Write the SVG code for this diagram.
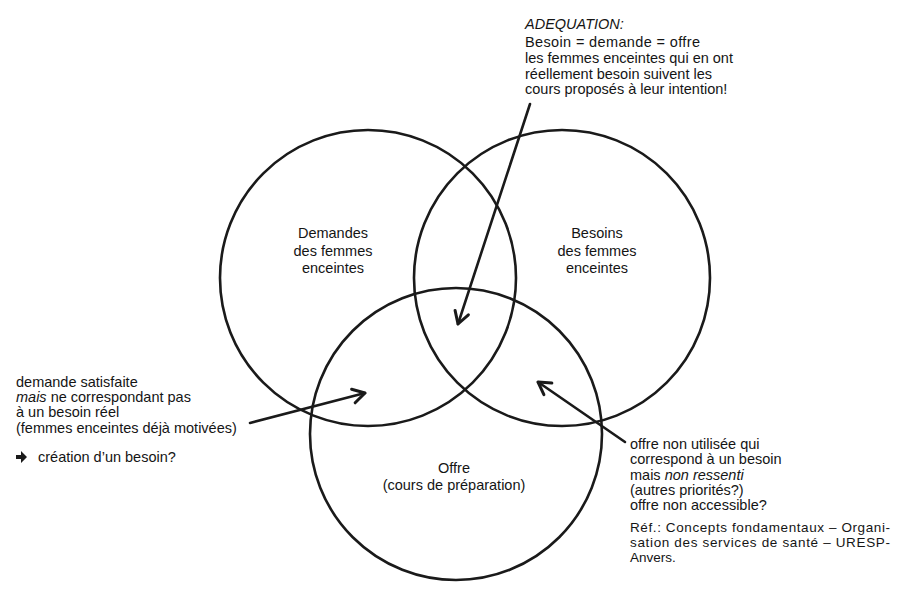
<svg xmlns="http://www.w3.org/2000/svg" width="900" height="592" viewBox="0 0 900 592">
  <style>
    .c { fill: none; stroke: #1a1a1a; stroke-width: 2.6; }
    .t { font-family: "Liberation Sans", Arial, sans-serif; font-size: 14.5px; fill: #151515; }
    .m { text-anchor: middle; }
    .i { font-style: italic; }
    .r { font-family: "Liberation Sans", Arial, sans-serif; font-size: 13.5px; fill: #151515; }
    .a { fill: none; stroke: #1a1a1a; stroke-width: 2.6; stroke-linecap: round; }
  </style>
  <defs>
    <marker id="ah" markerUnits="userSpaceOnUse" markerWidth="30" markerHeight="30" refX="0" refY="0" viewBox="-15 -15 30 30" orient="auto" overflow="visible">
      <path d="M -12 -7 L 0 0 L -12 7" fill="none" stroke="#1a1a1a" stroke-width="3" stroke-linecap="round" stroke-linejoin="round"/>
    </marker>
  </defs>
  <rect width="900" height="592" fill="#ffffff"/>

  <g id="demandes">
    <circle class="c" cx="368" cy="278" r="148"/>
    <text class="t m" x="333" y="238">Demandes</text>
    <text class="t m" x="333" y="256">des femmes</text>
    <text class="t m" x="333" y="273">enceintes</text>
  </g>

  <g id="besoins">
    <circle class="c" cx="562" cy="278" r="148"/>
    <text class="t m" x="597" y="238">Besoins</text>
    <text class="t m" x="597" y="256">des femmes</text>
    <text class="t m" x="597" y="273">enceintes</text>
  </g>

  <g id="offre">
    <circle class="c" cx="456" cy="434" r="146"/>
    <text class="t m" x="454" y="473">Offre</text>
    <text class="t m" x="454" y="490">(cours de préparation)</text>
  </g>

  <g id="adequation">
    <text class="t i" x="525" y="29">ADEQUATION:</text>
    <text class="t" x="525" y="47" textLength="175" lengthAdjust="spacing">Besoin = demande = offre</text>
    <text class="t" x="525" y="62.5">les femmes enceintes qui en ont</text>
    <text class="t" x="525" y="78.5">réellement besoin suivent les</text>
    <text class="t" x="525" y="94">cours proposés à leur intention!</text>
  </g>

  <g id="demande-satisfaite">
    <text class="t" x="16" y="387">demande satisfaite</text>
    <text class="t" x="16" y="402"><tspan class="i">mais</tspan> ne correspondant pas</text>
    <text class="t" x="16" y="417">à un besoin réel</text>
    <text class="t" x="16" y="433">(femmes enceintes déjà motivées)</text>
    <path d="M 16 455 L 21 455 L 21 451 L 27 457 L 21 463 L 21 459 L 16 459 Z" fill="#1a1a1a"/>
    <text class="t" x="38" y="462">création d’un besoin?</text>
  </g>

  <g id="offre-non-utilisee">
    <text class="t" x="630" y="449">offre non utilisée qui</text>
    <text class="t" x="630" y="464">correspond à un besoin</text>
    <text class="t" x="630" y="480">mais <tspan class="i">non ressenti</tspan></text>
    <text class="t" x="630" y="495">(autres priorités?)</text>
    <text class="t" x="630" y="510">offre non accessible?</text>
  </g>

  <g id="reference">
    <text class="r" x="630" y="532" textLength="260" lengthAdjust="spacing">Réf.: Concepts fondamentaux – Organi-</text>
    <text class="r" x="630" y="547" textLength="260" lengthAdjust="spacing">sation des services de santé – URESP-</text>
    <text class="r" x="630" y="562">Anvers.</text>
  </g>

  <g id="connectors">
    <line class="a" x1="530" y1="104" x2="458" y2="324" marker-end="url(#ah)"/>
    <line class="a" x1="250" y1="423" x2="365" y2="393" marker-end="url(#ah)"/>
    <line class="a" x1="625" y1="442" x2="538" y2="382" marker-end="url(#ah)"/>
  </g>
</svg>
